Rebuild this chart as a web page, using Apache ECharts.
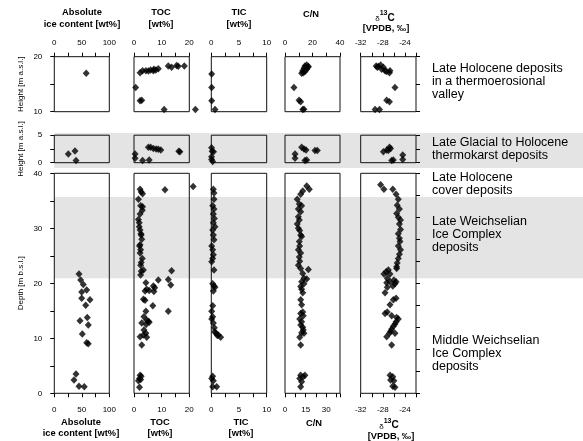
<!DOCTYPE html>
<html><head><meta charset="utf-8">
<script src="https://cdn.jsdelivr.net/npm/echarts@6/dist/echarts.min.js"></script>
<style>html,body{margin:0;padding:0;background:#fff}#c{width:583px;height:441px}</style>
</head><body><div id="c"></div>
<script>
// ---------- DATA: [value, height/depth] ----------
const iceTop = [[58,17.0]];
const iceMid = [[25.5,1.6],[37.6,2.15],[39.5,0.4]];
const iceBot = [[44.9,21.7],[48.0,20.6],[52.7,19.8],[49.8,18.4],[58.9,18.8],[49.8,17.3],[64.9,17.0],[57.1,16.0],[60.0,13.8],[46.7,13.2],[61.8,12.4],[50.9,10.8],[58.9,9.2],[61.8,9.0],[39.5,3.5],[35.8,2.4],[44.9,1.3],[54.5,1.2]];

const tocTop = [[2.2,17.1],[3.1,17.45],[4.3,17.45],[5.2,17.4],[6.0,17.6],[7.0,17.45],[7.2,17.7],[7.9,17.6],[8.8,17.8],[12.4,18.3],[13.6,18.1],[15.4,18.4],[16.0,18.25],[18.2,18.3],[0.6,14.4],[2.2,12.0],[2.8,12.1],[10.9,10.4],[22.2,10.4]];
const tocMid = [[0.4,1.6],[0.4,0.8],[3.1,0.4],[5.5,0.5],[5.2,2.8],[6.0,2.8],[7.0,2.6],[8.0,2.5],[8.8,2.45],[9.7,2.3],[16.2,2.1],[16.6,2.0]];
const tocBot = [[2.2,37.1],[2.6,36.6],[3.1,36.3],[1.6,35.3],[2.4,34.1],[3.1,33.9],[3.0,33.3],[2.2,32.6],[1.6,31.6],[1.9,31.0],[1.9,30.3],[2.2,29.7],[2.5,29.0],[2.6,28.8],[2.8,28.0],[2.2,27.0],[2.0,26.8],[2.4,26.1],[2.2,25.5],[3.0,24.5],[2.6,23.8],[2.4,23.3],[3.4,22.4],[2.6,22.2],[2.4,21.5],[13.6,22.3],[11.2,37.0],[21.4,37.6],
  [8.8,20.6],[12.4,20.7],[13.3,19.7],[4.3,20.1],[4.6,18.9],[5.5,18.7],[7.0,19.5],[7.2,18.5],[4.0,18.6],[7.5,19.2],[3.4,17.1],[4.0,16.9],[6.8,15.9],[4.3,14.9],[12.4,14.9],[3.6,13.9],[4.6,13.3],[5.2,13.1],[5.5,12.9],[2.8,12.8],[4.4,12.5],[3.6,11.5],[4.3,10.9],[3.4,10.6],[2.2,10.3],[4.6,10.2],[2.8,8.8],[2.2,3.3],[2.6,3.1],[2.0,2.7],[2.4,2.5],[1.6,2.3],[2.0,1.1]];

const ticTop = [[0.07,16.85],[0.07,14.4],[0.07,12.0],[0.67,10.4]];
const ticMid = [[0.05,2.7],[0.15,2.1],[0.4,2.0],[0.05,1.1],[0.05,0.6],[0.25,0.2]];
const ticBot = [[0.37,37.1],[0.49,36.4],[0.49,35.3],[0.25,34.1],[0.49,33.5],[0.37,32.6],[0.55,31.8],[0.37,31.0],[0.67,30.3],[0.25,29.7],[0.37,28.8],[0.49,27.9],[0.07,26.8],[0.25,26.1],[0.37,25.2],[0.25,24.5],[0.07,23.9],[0.49,22.4],[0.25,19.9],[0.49,19.5],[0.67,19.3],[0.37,18.6],[0.25,15.9],[0.07,14.9],[0.25,13.9],[0.07,13.5],[0.37,12.8],[0.55,11.9],[0.6,11.2],[0.85,10.9],[1.1,10.5],[1.27,10.6],[1.69,10.2],[0.25,3.1],[0.07,2.7],[0.37,2.3],[0.25,1.2],[0.97,1.2]];

const cnTop = [[14.5,18.3],[15.8,18.5],[17.0,18.2],[13.8,17.9],[15.8,17.7],[12.9,17.45],[14.5,17.3],[12.1,17.0],[13.3,17.1],[16.7,18.1],[6.5,14.4],[10.2,12.1],[11.4,11.8],[12.9,10.4],[13.8,10.45]];
const cnMid = [[7.3,1.6],[7.3,0.8],[12.1,2.8],[13.8,2.5],[15.3,2.3],[21.8,2.2],[23.5,2.2],[14.5,0.4],[15.8,0.5]];
const cnBot = [[15.8,37.7],[17.7,37.1],[12.9,36.8],[11.4,36.2],[8.9,35.3],[10.4,34.4],[12.1,34.1],[9.7,33.5],[11.4,33.0],[9.7,32.1],[10.4,31.5],[8.9,30.8],[9.7,30.0],[10.7,29.6],[11.4,28.8],[12.1,28.5],[10.4,27.6],[10.7,26.8],[9.7,26.1],[11.4,25.5],[10.4,24.8],[10.7,24.0],[9.7,23.3],[11.4,22.7],[17.0,22.5],[12.9,21.8],[13.8,20.9],[15.8,20.8],[12.1,20.3],
  [13.8,19.9],[11.4,19.4],[12.1,18.9],[12.9,18.3],[11.4,17.0],[12.1,16.1],[12.9,14.8],[11.4,14.5],[13.3,14.1],[10.7,13.5],[12.1,13.0],[11.4,12.4],[12.9,12.0],[13.3,11.5],[12.1,11.0],[13.8,10.9],[10.7,10.2],[11.4,8.8],[11.4,3.3],[13.3,3.0],[14.5,3.3],[10.7,2.7],[12.1,2.1],[11.4,1.2]];

const d13Top = [[-29.2,18.3],[-28.8,18.2],[-28.4,18.5],[-27.9,18.1],[-28.2,17.7],[-27.6,17.45],[-27.3,17.3],[-26.8,17.1],[-29.0,18.1],[-26.7,17.45],[-25.8,14.4],[-27.3,12.1],[-26.8,11.8],[-29.4,10.4],[-28.6,10.4]];
const d13Mid = [[-27.9,2.0],[-27.3,2.3],[-26.8,2.8],[-26.6,2.6],[-27.0,2.2],[-26.4,0.4],[-26.1,0.5],[-24.4,1.4],[-24.4,0.6]];
const d13Bot = [[-28.4,37.9],[-27.8,37.1],[-26.2,37.1],[-25.6,36.2],[-25.2,35.3],[-25.4,34.2],[-25.0,33.5],[-25.5,32.7],[-25.2,32.0],[-24.8,31.5],[-25.0,30.8],[-24.8,29.8],[-25.2,29.0],[-25.0,28.2],[-24.9,27.6],[-25.2,26.8],[-24.8,26.1],[-25.0,25.3],[-25.2,24.5],[-25.4,23.7],[-25.5,23.0],[-25.5,22.7],[-27.0,22.4],[-27.4,22.1],[-27.8,21.7],[-26.7,21.7],[-27.2,20.9],[-26.0,20.6],
  [-27.3,20.1],[-26.7,20.3],[-25.8,19.9],[-25.6,20.3],[-27.2,19.3],[-26.2,19.5],[-27.6,18.3],[-26.1,17.0],[-25.6,17.3],[-26.7,16.1],[-27.2,14.8],[-27.6,14.5],[-26.4,14.1],[-25.5,13.8],[-25.2,13.5],[-25.6,13.0],[-25.8,12.6],[-26.1,12.2],[-26.4,11.7],[-26.6,11.3],[-26.8,10.9],[-27.3,10.3],[-25.8,10.9],[-26.4,8.8],[-26.7,3.3],[-26.2,3.0],[-26.6,2.4],[-26.0,2.3],[-26.2,1.3],[-25.8,1.1]];

// tick labels
const iceTicks = [0,50,100];
const tocTicks = [0,10,20];
const ticTicks = [0,5,10];
const cnTicksTop = [0,20,40];
const cnTicksBot = [0,15,30];
const d13Ticks = [-32,-28,-24];
const hTopTicks = [10,20];
const hMidTicks = [0,5];
const depthTicks = [0,10,20,30,40];
// shaded stratigraphic bands (height / depth values)
const midBand = [-0.95, 5.4];
const botBand = [20.9, 35.7];

// ---------- LAYOUT ----------
const FONT = '"Liberation Sans", Arial, sans-serif';
const colBox = [[54.3,55],[134,55.3],[211.3,55.4],[285,55],[360.7,55.3]];
const rowBox = [[56.7,55],[135.2,27.5],[173.3,220]];
const xSc = [
  {min:0,max:100,iv:[25,25],lab:[iceTicks,iceTicks]},
  {min:0,max:20,iv:[5,5],lab:[tocTicks,tocTicks]},
  {min:0,max:10,iv:[2.5,2.5],lab:[ticTicks,ticTicks]},
  {min:0,max:40,iv:[10,7.5],lab:[cnTicksTop,cnTicksBot]},
  {min:-32,max:-22,iv:[2,2],lab:[d13Ticks,d13Ticks]}
];
const ySc = [
  {min:10,max:20,iv:5,lab:hTopTicks,name:'Height [m a.s.l.]',rIv:5},
  {min:0,max:5,iv:2.5,lab:hMidTicks,name:'Height [m a.s.l.]',rIv:2.5},
  {min:0,max:40,iv:5,lab:depthTicks,name:'Depth [m b.s.l.]',rIv:4}
];
const dataGrid = [
  [iceTop,tocTop,ticTop,cnTop,d13Top],
  [iceMid,tocMid,ticMid,cnMid,d13Mid],
  [iceBot,tocBot,ticBot,cnBot,d13Bot]
];

const grids=[], xAxes=[], yAxes=[], series=[];
const fmt = arr => v => (arr.some(a=>Math.abs(a-v)<1e-6) ? String(v) : '');
const tick = {show:true,inside:false,length:4,lineStyle:{color:'#000',width:1}};
for (let r=0;r<3;r++){
  for (let c=0;c<5;c++){
    const g = r*5+c;
    grids.push({left:colBox[c][0],top:rowBox[r][0],width:colBox[c][1],height:rowBox[r][1],
      show:true,borderColor:'#111',borderWidth:1,backgroundColor:'rgba(0,0,0,0)',containLabel:false,outerBoundsMode:'none'});
    const xs = xSc[c];
    const k = r===2?1:0;
    xAxes.push({gridIndex:g,type:'value',min:xs.min,max:xs.max,interval:xs.iv[k],
      position:r===0?'top':'bottom',show:r!==1,
      axisLine:{show:false},axisTick:tick,splitLine:{show:false},
      axisLabel:{show:true,margin:r===0?10:12,fontSize:8,color:'#000',fontFamily:FONT,formatter:fmt(xs.lab[k]),hideOverlap:false}});
    const ys = ySc[r];
    yAxes.push({gridIndex:g,type:'value',min:ys.min,max:ys.max,interval:ys.iv,position:'left',show:c===0,
      axisLine:{show:false},axisTick:tick,splitLine:{show:false},
      axisLabel:{show:true,margin:12,fontSize:8,color:'#000',fontFamily:FONT,formatter:fmt(ys.lab)},
      name:ys.name,nameLocation:'middle',nameGap:30,nameTextStyle:{fontSize:8,color:'#000',fontFamily:FONT}});
    series.push({type:'scatter',xAxisIndex:g,yAxisIndex:g,data:dataGrid[r][c],symbol:'diamond',symbolSize:[7,7.5],
      itemStyle:{color:'#000'},clip:false,silent:true,animation:false});
  }
}
for (let r=0;r<3;r++){
  yAxes.push({gridIndex:r*5+4,type:'value',min:ySc[r].min,max:ySc[r].max,interval:ySc[r].rIv,position:'right',
    axisLine:{show:false},axisTick:tick,axisLabel:{show:false},splitLine:{show:false}});
}

const chart = echarts.init(document.getElementById('c'));
chart.setOption({backgroundColor:'#fff',animation:false,grid:grids,xAxis:xAxes,yAxis:yAxes,series:series});

// ---------- bands & text ----------
const xL = chart.convertToPixel({xAxisIndex:0},0);
const m1 = chart.convertToPixel({yAxisIndex:5},midBand[1]);
const m0 = chart.convertToPixel({yAxisIndex:5},midBand[0]);
const b1 = chart.convertToPixel({yAxisIndex:10},botBand[1]);
const b0 = chart.convertToPixel({yAxisIndex:10},botBand[0]);
const band = (y1,y2)=>({type:'rect',z:-10,silent:true,shape:{x:xL,y:y1,width:583-xL,height:y2-y1},style:{fill:'#e4e4e4'}});
const txt = (x,y,t,font,align,lh)=>({type:'text',z:50,silent:true,x:x,y:y,
  style:{text:t,font:font,textAlign:align,align:align,textVerticalAlign:'middle',verticalAlign:'middle',fill:'#000',lineHeight:lh||11}});
const TF = 'bold 9.3px '+FONT;
const RF = '12.5px '+FONT;
const d13rich = (x,y)=>({type:'text',z:50,silent:true,x:x,y:y,style:{text:'{a|δ}{b|13}{c|C}',textAlign:'center',align:'center',textVerticalAlign:'middle',verticalAlign:'middle',fill:'#000',
  rich:{a:{fontSize:8,fontFamily:FONT,verticalAlign:'bottom',lineHeight:13},b:{fontSize:7,fontFamily:FONT,fontWeight:'bold',verticalAlign:'top',lineHeight:13},c:{fontSize:10,fontFamily:FONT,fontWeight:'bold',verticalAlign:'bottom',lineHeight:13}}}});
const gfx = [
  band(m1,m0), band(b1,b0),
  txt(82,18.3,'Absolute\nice content [wt%]',TF,'center',11.5),
  txt(161,18.3,'TOC\n[wt%]',TF,'center',11.5),
  txt(239,18.3,'TIC\n[wt%]',TF,'center',11.5),
  txt(311,14,'C/N',TF,'center'),
  d13rich(385,16.5),
  txt(386,28.5,'[VPDB, ‰]',TF,'center'),
  txt(81,428,'Absolute\nice content [wt%]',TF,'center',11.5),
  txt(160,428,'TOC\n[wt%]',TF,'center',11.5),
  txt(241,428,'TIC\n[wt%]',TF,'center',11.5),
  txt(314,423,'C/N',TF,'center'),
  d13rich(389,424),
  txt(391,436,'[VPDB, ‰]',TF,'center'),
  txt(432,82,'Late Holocene deposits\nin a thermoerosional\nvalley',RF,'left',13),
  txt(432,149.5,'Late Glacial to Holocene\nthermokarst deposits',RF,'left',13),
  txt(432,184,'Late Holocene\ncover deposits',RF,'left',13),
  txt(432,235,'Late Weichselian\nIce Complex\ndeposits',RF,'left',13),
  txt(432,354,'Middle Weichselian\nIce Complex\ndeposits',RF,'left',13)
];
chart.setOption({graphic:{elements:gfx}});
</script></body></html>
